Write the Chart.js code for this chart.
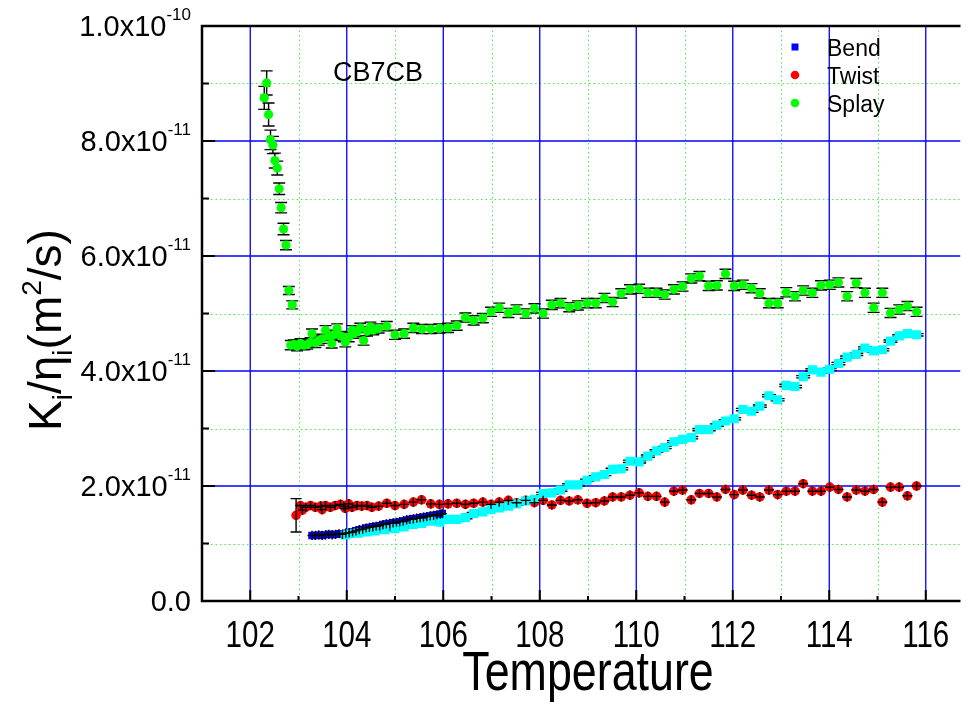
<!DOCTYPE html>
<html>
<head>
<meta charset="utf-8">
<script src="https://cdn.jsdelivr.net/npm/chart.js@4.4.0/dist/chart.umd.min.js"></script>
<style>
html, body { margin: 0; padding: 0; background: #fff; }
#wrap { position: relative; width: 967px; height: 712px; }
</style>
</head>
<body>
<div id="wrap"><canvas id="chart"></canvas></div>
<script>
'use strict';

// values are in units of 1e-11 m^2/s
var splayT = [102.34, 102.29, 102.38, 102.42, 102.47, 102.51, 102.56, 102.60, 102.64, 102.69, 102.74, 102.80, 102.87,
  102.84, 102.91, 102.97, 103.04, 103.11, 103.18, 103.25, 103.28, 103.35, 103.42, 103.49, 103.56, 103.63, 103.69,
  103.73, 103.80, 103.87, 103.94, 103.97, 104.04, 104.11, 104.14, 104.21, 104.28, 104.35, 104.42, 104.49, 104.55,
  104.66, 104.83, 105.00, 105.19, 105.38, 105.56, 105.74, 105.92, 106.10, 106.28, 106.46, 106.63, 106.82, 106.99,
  107.16, 107.35, 107.52, 107.71, 107.89, 108.07, 108.25, 108.43, 108.61, 108.79, 108.98, 109.16, 109.34, 109.51,
  109.69, 109.87, 110.06, 110.24, 110.42, 110.59, 110.78, 110.96, 111.14, 111.31, 111.50, 111.67, 111.85, 112.03,
  112.21, 112.39, 112.56, 112.75, 112.93, 113.11, 113.29, 113.46, 113.65, 113.83, 114.01, 114.19, 114.37, 114.56,
  114.74, 114.92, 115.10, 115.27, 115.45, 115.62, 115.81];
var splayK = [9.01, 8.75, 8.46, 8.02, 7.93, 7.66, 7.53, 7.17, 6.84, 6.47, 6.19, 5.40, 5.15,
  4.45, 4.46, 4.43, 4.48, 4.45, 4.46, 4.50, 4.65, 4.49, 4.53, 4.56, 4.71, 4.61, 4.48,
  4.63, 4.74, 4.61, 4.59, 4.50, 4.59, 4.71, 4.65, 4.68, 4.75, 4.53, 4.69, 4.77, 4.71,
  4.74, 4.78, 4.63, 4.65, 4.75, 4.73, 4.73, 4.74, 4.75, 4.79, 4.93, 4.88, 4.92, 5.03,
  5.10, 5.01, 5.07, 5.00, 5.09, 5.00, 5.15, 5.18, 5.11, 5.14, 5.18, 5.18, 5.27, 5.20,
  5.35, 5.42, 5.43, 5.36, 5.36, 5.33, 5.42, 5.47, 5.61, 5.65, 5.48, 5.49, 5.69, 5.48,
  5.50, 5.44, 5.35, 5.18, 5.18, 5.37, 5.30, 5.40, 5.36, 5.49, 5.50, 5.54, 5.30, 5.53,
  5.36, 5.10, 5.36, 5.01, 5.07, 5.13, 5.03];
var splayErrHigh = [0.21, 0.20, 0.20, 0.17, 0.15, 0.13, 0.12, 0.10, 0.09, 0.10, 0.08, 0.07, 0.07];
var splayErrRest = 0.08;

var twistT = [102.95, 103.04, 103.08, 103.15, 103.25, 103.35, 103.46, 103.49, 103.56, 103.66, 103.76, 103.87, 103.94,
  103.97, 104.04, 104.11, 104.21, 104.31, 104.42, 104.52, 104.66, 104.83, 105.00, 105.19, 105.38, 105.55, 105.74,
  105.92, 106.10, 106.28, 106.46, 106.63, 106.82, 106.99, 107.16, 107.35, 107.52, 107.71, 107.89, 108.07, 108.25,
  108.43, 108.61, 108.79, 108.98, 109.16, 109.34, 109.51, 109.69, 109.87, 110.06, 110.24, 110.42, 110.59, 110.78,
  110.96, 111.14, 111.31, 111.50, 111.67, 111.85, 112.03, 112.21, 112.39, 112.56, 112.75, 112.93, 113.11, 113.29,
  113.46, 113.65, 113.83, 114.01, 114.19, 114.37, 114.56, 114.74, 114.92, 115.10, 115.27, 115.45, 115.62, 115.81];
var twistK = [1.49, 1.66, 1.58, 1.63, 1.66, 1.63, 1.65, 1.59, 1.66, 1.63, 1.66, 1.68, 1.65,
  1.61, 1.69, 1.63, 1.66, 1.65, 1.66, 1.63, 1.65, 1.70, 1.66, 1.68, 1.72, 1.76, 1.69,
  1.68, 1.69, 1.70, 1.68, 1.70, 1.72, 1.68, 1.72, 1.75, 1.71, 1.75, 1.71, 1.75, 1.67,
  1.75, 1.74, 1.76, 1.70, 1.71, 1.74, 1.81, 1.81, 1.84, 1.88, 1.82, 1.82, 1.72, 1.91,
  1.93, 1.76, 1.87, 1.87, 1.81, 1.94, 1.85, 1.93, 1.84, 1.81, 1.93, 1.85, 1.91, 1.91,
  2.04, 1.91, 1.91, 1.98, 1.94, 1.81, 1.93, 1.91, 1.94, 1.72, 1.98, 1.98, 1.83, 2.00];
var twistErrFirst = [0.29];
var twistErrRest = 0.08;

var bendT = [103.28, 103.35, 103.42, 103.49, 103.56, 103.63, 103.70, 103.77, 103.84, 103.91, 103.98, 104.05, 104.12,
  104.19, 104.26, 104.33, 104.40, 104.47, 104.54, 104.61, 104.68, 104.75, 104.82, 104.89, 104.96, 105.03, 105.10,
  105.17, 105.24, 105.31, 105.38, 105.45, 105.52, 105.59, 105.66, 105.73, 105.80, 105.87, 105.94, 105.98];
var bendK = [1.14, 1.14, 1.15, 1.14, 1.15, 1.16, 1.15, 1.16, 1.17, 1.16, 1.18, 1.19, 1.20,
  1.22, 1.24, 1.25, 1.27, 1.28, 1.29, 1.30, 1.31, 1.33, 1.34, 1.35, 1.36, 1.37, 1.38,
  1.39, 1.41, 1.42, 1.43, 1.44, 1.45, 1.46, 1.47, 1.48, 1.49, 1.50, 1.51, 1.52];
var bendErr = 0.08;

var cyanT = [103.97, 104.07, 104.24, 104.42, 104.59, 104.79, 105.00, 105.19, 105.38, 105.55, 105.74, 105.93, 106.10,
  106.28, 106.46, 106.63, 106.82, 106.99, 107.16, 107.35, 107.52, 107.71, 107.89, 108.07, 108.25, 108.43, 108.61,
  108.79, 108.98, 109.16, 109.34, 109.51, 109.69, 109.87, 110.06, 110.24, 110.42, 110.59, 110.78, 110.96, 111.14,
  111.31, 111.50, 111.67, 111.85, 112.03, 112.21, 112.39, 112.56, 112.75, 112.93, 113.11, 113.29, 113.46, 113.65,
  113.83, 114.01, 114.19, 114.37, 114.56, 114.74, 114.92, 115.10, 115.27, 115.45, 115.62, 115.81];
var cyanK = [1.15, 1.17, 1.18, 1.20, 1.22, 1.24, 1.26, 1.29, 1.33, 1.35, 1.39, 1.37, 1.42,
  1.42, 1.45, 1.52, 1.55, 1.59, 1.62, 1.65, 1.69, 1.74, 1.77, 1.87, 1.88, 1.93, 2.02,
  2.02, 2.10, 2.16, 2.20, 2.29, 2.30, 2.43, 2.42, 2.52, 2.61, 2.67, 2.77, 2.81, 2.84,
  2.98, 2.98, 3.06, 3.13, 3.17, 3.33, 3.30, 3.39, 3.57, 3.50, 3.75, 3.73, 3.90, 4.02,
  3.98, 4.03, 4.13, 4.24, 4.29, 4.40, 4.35, 4.37, 4.52, 4.61, 4.65, 4.63];
var cyanErr = 0.02;

var xTickValues = [102, 104, 106, 108, 110, 112, 114, 116];
var xTickLabels = ['102', '104', '106', '108', '110', '112', '114', '116'];
var yTickValues = [0, 2, 4, 6, 8, 10];
var yTickLabels = [['0.0', ''], ['2.0x10', '-11'], ['4.0x10', '-11'], ['6.0x10', '-11'], ['8.0x10', '-11'], ['1.0x10', '-10']];
var xMin = 101, xMax = 116.72, yMin = 0, yMax = 10;

var FONT = '"Liberation Sans", Arial, Helvetica, sans-serif';

function pts(xs, ys) {
  return xs.map(function(x, i) { return { x: x, y: ys[i] }; });
}
function errList(first, rest, n) {
  var out = [];
  for (var i = 0; i < n; i++) out.push(i < first.length ? first[i] : rest);
  return out;
}

function textAt(ctx, str, x, y, size, align, squeeze) {
  ctx.save();
  ctx.font = size + 'px ' + FONT;
  ctx.translate(x, y);
  ctx.scale(squeeze || 1, 1);
  ctx.textAlign = align || 'left';
  ctx.textBaseline = 'alphabetic';
  ctx.fillStyle = '#000';
  ctx.fillText(str, 0, 0);
  ctx.restore();
}
function widthOf(ctx, str, size, squeeze) {
  ctx.save();
  ctx.font = size + 'px ' + FONT;
  var w = ctx.measureText(str).width * (squeeze || 1);
  ctx.restore();
  return w;
}

var gridPlugin = {
  id: 'gridPlugin',
  beforeDatasetsDraw: function(chart) {
    var ctx = chart.ctx, ca = chart.chartArea, xs = chart.scales.x, ys = chart.scales.y;
    ctx.save();
    ctx.beginPath();
    ctx.rect(ca.left, ca.top, ca.right - ca.left, ca.bottom - ca.top);
    ctx.clip();
    // minor dotted green
    ctx.strokeStyle = '#44ee44';
    ctx.lineWidth = 1;
    ctx.setLineDash([1.5, 3]);
    for (var v = Math.ceil(xMin); v <= xMax; v++) {
      if (v % 2 === 0) continue;
      var px = Math.round(xs.getPixelForValue(v)) + 0.5;
      ctx.beginPath(); ctx.moveTo(px, ca.top); ctx.lineTo(px, ca.bottom); ctx.stroke();
    }
    for (var w = 1; w < yMax; w += 2) {
      var py = Math.round(ys.getPixelForValue(w)) + 0.5;
      ctx.beginPath(); ctx.moveTo(ca.left, py); ctx.lineTo(ca.right, py); ctx.stroke();
    }
    // major solid blue
    ctx.setLineDash([]);
    ctx.strokeStyle = '#0000ff';
    ctx.lineWidth = 1.3;
    for (var a = Math.ceil(xMin); a <= xMax; a++) {
      if (a % 2 !== 0) continue;
      var qx = xs.getPixelForValue(a);
      ctx.beginPath(); ctx.moveTo(qx, ca.top); ctx.lineTo(qx, ca.bottom); ctx.stroke();
    }
    for (var b = 2; b < yMax; b += 2) {
      var qy = ys.getPixelForValue(b);
      ctx.beginPath(); ctx.moveTo(ca.left, qy); ctx.lineTo(ca.right, qy); ctx.stroke();
    }
    ctx.restore();
  }
};

function drawErrors(chart, under) {
  var ctx = chart.ctx, ys = chart.scales.y;
  chart.data.datasets.forEach(function(ds, di) {
    if (!ds.errors || !!ds.errUnder !== under) return;
    var meta = chart.getDatasetMeta(di);
    ctx.save();
    ctx.strokeStyle = '#000';
    ctx.lineWidth = 1.4;
    meta.data.forEach(function(el, i) {
      var yv = ds.data[i].y, e = ds.errors[i];
      var x = el.x, y = el.y;
      var top = ys.getPixelForValue(yv + e), bot = ys.getPixelForValue(yv - e);
      var c = (ds.capFirst && i === 0 ? ds.capFirst : ds.capWidth) / 2;
      ctx.beginPath();
      ctx.moveTo(x, top); ctx.lineTo(x, bot);
      if (c > 0) {
        ctx.moveTo(x - c, top); ctx.lineTo(x + c, top);
        ctx.moveTo(x - c, bot); ctx.lineTo(x + c, bot);
      }
      if (ds.crossBar && !(ds.capFirst && i === 0)) {
        ctx.moveTo(x - ds.crossBar / 2, y); ctx.lineTo(x + ds.crossBar / 2, y);
      }
      ctx.stroke();
    });
    ctx.restore();
  });
}
var errorBarPlugin = {
  id: 'errorBarPlugin',
  beforeDatasetsDraw: function(chart) { drawErrors(chart, true); },
  afterDatasetsDraw: function(chart) { drawErrors(chart, false); }
};

var framePlugin = {
  id: 'framePlugin',
  afterDraw: function(chart) {
    var ctx = chart.ctx, ca = chart.chartArea, xs = chart.scales.x, ys = chart.scales.y;
    ctx.save();
    ctx.strokeStyle = '#000';
    ctx.lineWidth = 2.5;
    ctx.beginPath();
    ctx.moveTo(ca.right, ca.top); ctx.lineTo(ca.left, ca.top);
    ctx.lineTo(ca.left, ca.bottom); ctx.lineTo(ca.right, ca.bottom);
    ctx.stroke();
    ctx.lineWidth = 2;
    // inward ticks
    for (var v = Math.ceil(xMin); v <= xMax; v++) {
      var px = xs.getPixelForValue(v);
      var len = v % 2 === 0 ? 11 : 5;
      ctx.beginPath(); ctx.moveTo(px, ca.bottom); ctx.lineTo(px, ca.bottom - len); ctx.stroke();
    }
    for (var w = 1; w < yMax; w++) {
      var py = ys.getPixelForValue(w);
      var l2 = w % 2 === 0 ? 13 : 7;
      ctx.beginPath(); ctx.moveTo(ca.left, py); ctx.lineTo(ca.left + l2, py); ctx.stroke();
    }
    ctx.restore();

    // x tick labels
    xTickValues.forEach(function(v, i) {
      textAt(ctx, xTickLabels[i], xs.getPixelForValue(v), 647, 36, 'center', 0.82);
    });
    // y tick labels with superscript exponent
    yTickValues.forEach(function(v, i) {
      var main = yTickLabels[i][0], sup = yTickLabels[i][1];
      var py = ys.getPixelForValue(v);
      var right = 191;
      var ws = sup ? widthOf(ctx, sup, 17) : 0;
      textAt(ctx, main, right - ws, py + 10, 29, 'right');
      if (sup) textAt(ctx, sup, right - ws, py - 6, 17, 'left');
    });
    // x title
    textAt(ctx, 'Temperature', 588, 690, 56, 'center', 0.8);

    // y title K_i/eta_i(m^2/s), rotated
    var parts = [['K', 0], ['i', 1], ['/', 0], ['\u03b7', 0], ['i', 1], ['(m', 0], ['2', 2], ['/s)', 0]];
    var big = 46, small = 28;
    var total = 0;
    parts.forEach(function(p) { total += widthOf(ctx, p[0], p[1] ? small : big); });
    ctx.save();
    ctx.translate(61, 330 + total / 2);
    ctx.rotate(-Math.PI / 2);
    var cx = 0;
    parts.forEach(function(p) {
      var size = p[1] ? small : big;
      var dy = p[1] === 1 ? 11 : (p[1] === 2 ? -20 : 0);
      textAt(ctx, p[0], cx, dy, size, 'left');
      cx += widthOf(ctx, p[0], size);
    });
    ctx.restore();

    // sample name
    textAt(ctx, 'CB7CB', 333, 81, 27, 'left');

    // legend
    var ly = 47;
    chart.data.datasets.forEach(function(ds) {
      if (!ds.label) return;
      ctx.save();
      ctx.fillStyle = ds.backgroundColor;
      ctx.beginPath();
      if (ds.pointStyle === 'rect') ctx.rect(791.5, ly - 3.5, 7, 7);
      else ctx.arc(795, ly, 4.3, 0, Math.PI * 2);
      ctx.fill();
      ctx.restore();
      textAt(ctx, ds.label, 827, ly + 8.5, 23, 'left');
      ly += 28;
    });
  }
};

var datasets = [
  { label: '', data: pts(cyanT, cyanK), backgroundColor: '#00ffff', pointStyle: 'rect', pointRadius: 6.5,
    errors: errList([], cyanErr, cyanT.length), capWidth: 14, errUnder: true },
  { label: 'Bend', data: pts(bendT, bendK), backgroundColor: '#0000ff', pointStyle: 'rect', pointRadius: 5.3,
    errors: errList([], bendErr, bendT.length), capWidth: 0, crossBar: 9 },
  { label: 'Twist', data: pts(twistT, twistK), backgroundColor: '#ff0000', pointStyle: 'circle', pointRadius: 4.8,
    errors: errList(twistErrFirst, twistErrRest, twistT.length), capWidth: 0, crossBar: 10, capFirst: 11 },
  { label: 'Splay', data: pts(splayT, splayK), backgroundColor: '#00ff00', pointStyle: 'circle', pointRadius: 4.6,
    errors: errList(splayErrHigh, splayErrRest, splayT.length), capWidth: 12, errUnder: true }
];
datasets.forEach(function(d) { d.pointBorderWidth = 0; d.pointBorderColor = d.backgroundColor; d.showLine = false; });

new Chart(document.getElementById('chart'), {
  type: 'scatter',
  data: { datasets: datasets },
  options: {
    responsive: true,
    maintainAspectRatio: false,
    animation: false,
    devicePixelRatio: 1,
    layout: { padding: { top: 26, right: 0, left: 0, bottom: 0 } },
    plugins: { legend: { display: false }, tooltip: { enabled: false } },
    scales: {
      x: {
        type: 'linear', min: xMin, max: xMax,
        grid: { display: false }, border: { display: false }, ticks: { display: false },
        afterFit: function(s) { s.height = 111; }
      },
      y: {
        type: 'linear', min: yMin, max: yMax,
        grid: { display: false }, border: { display: false }, ticks: { display: false },
        afterFit: function(s) { s.width = 202; }
      }
    }
  },
  plugins: [gridPlugin, errorBarPlugin, framePlugin]
});
</script>
</body>
</html>
